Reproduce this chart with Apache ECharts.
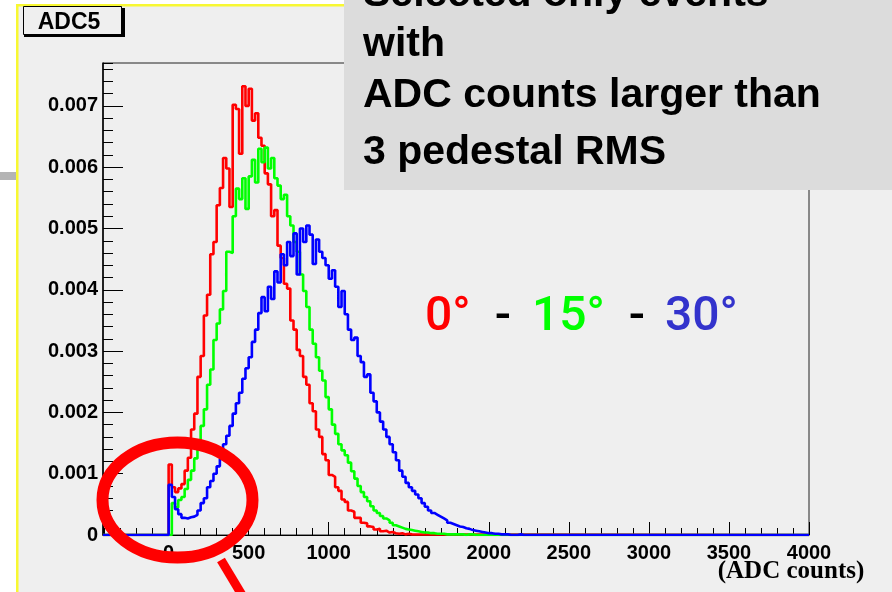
<!DOCTYPE html>
<html><head><meta charset="utf-8">
<script src="https://cdn.jsdelivr.net/npm/echarts@6/dist/echarts.min.js"></script>
<style>html,body{margin:0;padding:0;background:#fff;} #c{width:892px;height:592px;}</style>
</head><body><div id="c"></div>
<script>
// ---- axis ranges / ticks ----
const X_MIN = -410, X_MAX = 4000, BIN_WIDTH = 20;
const Y_MIN = 0, Y_MAX = 0.0077;
const xTickLabels = ['0','500','1000','1500','2000','2500','3000','3500','4000'];
const yTickLabels = ['0','0.001','0.002','0.003','0.004','0.005','0.006','0.007'];
const seriesNames = ['0°','15°','30°'];

// ---- histogram contents (bin starts at 0, 20, 40, ... ADC counts) ----
const red0 = [0.00115,0.00078,0.00070,0.00076,0.00083,0.00105,0.00126,0.00172,0.00198,0.00258,
 0.00292,0.00358,0.00392,0.00458,0.00478,0.00538,0.00566,0.00615,0.00598,0.00535,
 0.00702,0.00695,0.00622,0.00732,0.00700,0.00728,0.00676,0.00688,0.00648,0.00635,
 0.00590,0.00572,0.00520,0.00530,0.00472,0.00452,0.00410,0.00402,0.00350,0.00335,
 0.00302,0.00292,0.00258,0.00245,0.00215,0.00202,0.00172,0.00160,0.00132,0.00122,
 0.00098,0.00095,0.00078,0.00072,0.00058,0.00054,0.00040,0.00038,0.00028,0.00028,
 0.00020,0.00019,0.00014,0.00013,0.00009,0.00010,0.00006,0.00007,0.00004,0.00005,
 0.00003,0.00002,0.00003,0.00001,0.00002,0.00001];

const green15 = [0,0.00052,0.00045,0.00057,0.00062,0.00075,0.00090,0.00105,0.00125,0.00145,
 0.00178,0.00205,0.00245,0.00270,0.00318,0.00345,0.00368,0.00398,0.00462,0.00460,
 0.00520,0.00565,0.00548,0.00582,0.00532,0.00585,0.00612,0.00575,0.00630,0.00608,
 0.00632,0.00598,0.00615,0.00582,0.00570,0.00548,0.00555,0.00520,0.00505,0.00478,
 0.00462,0.00425,0.00398,0.00372,0.00335,0.00312,0.00290,0.00268,0.00252,0.00225,
 0.00205,0.00180,0.00165,0.00148,0.00138,0.00130,0.00118,0.00104,0.00092,0.00080,
 0.00070,0.00062,0.00055,0.00047,0.00040,0.00036,0.00031,0.00027,0.00024,0.00020,
 0.00016,0.00014,0.00012,0.00010,0.00009,0.00008,0.00007,0.00006,0.00005,0.00004,
 0.00004,0.00003,0.00003,0.00002,0.00002,0.00002,0.00001,0.00001,0.00001,0.00001,
 0.00001,0.00001,0.00000,0.00001,0.00001,0.00000];

const blue30 = [0.00082,0.00062,0.00042,0.00034,0.00028,0.00027,0.00029,0.00030,0.00033,0.00040,
 0.00052,0.00060,0.00078,0.00088,0.00100,0.00112,0.00124,0.00148,0.00162,0.00178,
 0.00198,0.00215,0.00232,0.00255,0.00272,0.00290,0.00315,0.00335,0.00362,0.00388,
 0.00365,0.00405,0.00385,0.00430,0.00412,0.00458,0.00440,0.00478,0.00455,0.00492,
 0.00425,0.00500,0.00478,0.00505,0.00490,0.00442,0.00482,0.00462,0.00452,0.00440,
 0.00418,0.00432,0.00405,0.00372,0.00398,0.00360,0.00335,0.00318,0.00322,0.00292,
 0.00282,0.00258,0.00262,0.00232,0.00218,0.00200,0.00185,0.00172,0.00160,0.00148,
 0.00135,0.00122,0.00105,0.00095,0.00085,0.00078,0.00072,0.00066,0.00060,0.00052,
 0.00046,0.00040,0.00036,0.00033,0.00030,0.00027,0.00024,0.00020,0.00018,0.00016,
 0.00014,0.00013,0.00011,0.00010,0.00008,0.00007,0.00006,0.00005,0.00004,0.00003,
 0.00003,0.00002,0.00002,0.00001,0.00001,0.00001,0,0,0,0.00001,0];

function histPoints(vals) {
  const pts = [[X_MIN, 0]];
  vals.forEach((v, i) => pts.push([i * BIN_WIDTH, v]));
  pts.push([vals.length * BIN_WIDTH, 0]);
  pts.push([X_MAX, 0]);
  return pts;
}

const LBL = {fontFamily: 'Liberation Sans', fontWeight: 'bold', fontSize: 20, color: '#000'};

function histSeries(name, vals, color) {
  return {name, type: 'line', step: 'end', symbol: 'none', silent: true,
    data: histPoints(vals), lineStyle: {color, width: 2.6}, itemStyle: {color}};
}

const chart = echarts.init(document.getElementById('c'), null, {renderer: 'canvas'});
chart.setOption({
  animation: false,
  backgroundColor: '#efefef',
  grid: {left: 103, right: 83, top: 63, bottom: 57, show: true, borderColor: '#222', borderWidth: 1, backgroundColor: 'transparent'},
  xAxis: {
    type: 'value', min: X_MIN, max: X_MAX, splitNumber: 9,
    axisLine: {onZero: false, lineStyle: {color: '#000', width: 1}},
    axisTick: {inside: true, length: 13, lineStyle: {color: '#000'}},
    minorTick: {show: true, splitNumber: 5, length: 7, lineStyle: {color: '#000'}},
    splitLine: {show: false},
    axisLabel: Object.assign({margin: 8, showMinLabel: false,
      formatter: v => xTickLabels.includes(String(v)) ? String(v) : ''}, LBL)
  },
  yAxis: [{
    type: 'value', min: Y_MIN, max: Y_MAX, interval: 0.001,
    axisLine: {show: true, onZero: false, lineStyle: {color: '#000', width: 1.5}},
    axisTick: {inside: true, length: 20, lineStyle: {color: '#000'}},
    splitLine: {show: false},
    axisLabel: Object.assign({margin: 5, showMaxLabel: false,
      formatter: v => { const s = v === 0 ? '0' : v.toFixed(3); return yTickLabels.includes(s) ? s : ''; }}, LBL)
  }, {
    type: 'value', min: Y_MIN, max: Y_MAX, interval: 0.0002, position: 'left',
    axisLine: {show: false, onZero: false},
    axisTick: {show: true, inside: true, length: 10, lineStyle: {color: '#000'}},
    splitLine: {show: false},
    axisLabel: {show: false}
  }],
  series: [
    histSeries(seriesNames[0], red0, '#ff0000'),
    histSeries(seriesNames[1], green15, '#00ff00'),
    histSeries(seriesNames[2], blue30, '#0000ff')
  ],
  graphic: [
    // outer white margin + yellow slide border
    {type: 'rect', z: 100, shape: {x: 0, y: 0, width: 892, height: 4}, style: {fill: '#fff'}},
    {type: 'rect', z: 100, shape: {x: 0, y: 0, width: 16, height: 592}, style: {fill: '#fff'}},
    {type: 'rect', z: 101, shape: {x: 0, y: 172, width: 16, height: 8}, style: {fill: '#b4b4b4'}},
    {type: 'rect', z: 101, shape: {x: 16, y: 4, width: 876, height: 2.5}, style: {fill: '#f8f832'}},
    {type: 'rect', z: 101, shape: {x: 16, y: 4, width: 2.5, height: 588}, style: {fill: '#f8f832'}},
    // ADC5 title box
    {type: 'rect', z: 102, shape: {x: 23.5, y: 6.5, width: 98, height: 28}, style: {fill: '#efefef', stroke: '#000', lineWidth: 1}},
    {type: 'rect', z: 102, shape: {x: 24, y: 34, width: 101, height: 3}, style: {fill: '#000'}},
    {type: 'rect', z: 102, shape: {x: 121.5, y: 8, width: 3.5, height: 29}, style: {fill: '#000'}},
    {type: 'text', z: 103, x: 69, y: 23, style: {text: 'ADC5', font: 'bold 23px "Liberation Sans"', fill: '#000', align: 'center', verticalAlign: 'middle'}},
    // grey annotation box
    {type: 'rect', z: 110, shape: {x: 344, y: 0, width: 548, height: 190}, style: {fill: '#dcdcdc'}},
    {type: 'text', z: 111, x: 363, y: -5, style: {text: 'Selected only events', font: 'bold 41px "Liberation Sans"', fill: '#000', align: 'left', verticalAlign: 'middle'}},
    {type: 'text', z: 111, x: 363, y: 45, style: {text: 'with', font: 'bold 41px "Liberation Sans"', fill: '#000', align: 'left', verticalAlign: 'middle'}},
    {type: 'text', z: 111, x: 363, y: 96, style: {text: 'ADC counts larger than', font: 'bold 41px "Liberation Sans"', fill: '#000', align: 'left', verticalAlign: 'middle'}},
    {type: 'text', z: 111, x: 363, y: 153, style: {text: '3 pedestal RMS', font: 'bold 41px "Liberation Sans"', fill: '#000', align: 'left', verticalAlign: 'middle'}},
    // angle legend
    {type: 'text', z: 111, x: 425, y: 318, style: {text: seriesNames[0], font: '500 48px Roboto', fill: '#ff0000', align: 'left', verticalAlign: 'middle'}},
    {type: 'text', z: 111, x: 503, y: 318, style: {text: '-', font: '500 48px Roboto', fill: '#000', align: 'center', verticalAlign: 'middle'}},
    {type: 'text', z: 111, x: 532, y: 318, style: {text: seriesNames[1], font: '500 48px Roboto', fill: '#00ff00', align: 'left', verticalAlign: 'middle'}},
    {type: 'text', z: 111, x: 637, y: 318, style: {text: '-', font: '500 48px Roboto', fill: '#000', align: 'center', verticalAlign: 'middle'}},
    {type: 'text', z: 111, x: 665, y: 318, style: {text: seriesNames[2], font: '500 48px Roboto', fill: '#3333cc', align: 'left', verticalAlign: 'middle'}},
    // axis title
    {type: 'text', z: 111, x: 791, y: 572, style: {text: '(ADC counts)', font: 'bold 25px "Liberation Serif"', fill: '#000', align: 'center', verticalAlign: 'middle'}},
    // red highlight ellipse + pointer
    {type: 'ellipse', z: 120, shape: {cx: 177.5, cy: 500, rx: 75, ry: 57.5}, style: {fill: 'none', stroke: '#ff0000', lineWidth: 12}},
    {type: 'line', z: 120, shape: {x1: 221, y1: 560, x2: 245, y2: 600}, style: {stroke: '#ff0000', lineWidth: 9}}
  ]
});
</script>
</body></html>
